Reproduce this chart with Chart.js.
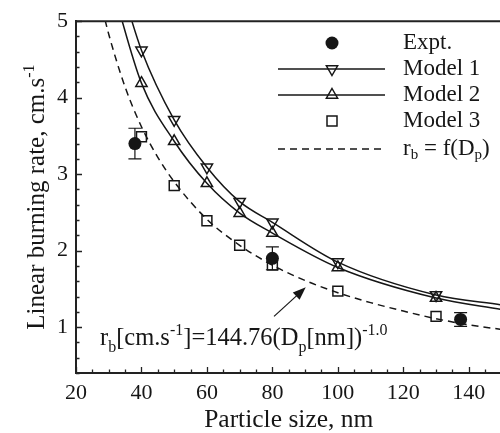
<!DOCTYPE html>
<html>
<head>
<meta charset="utf-8">
<script src="https://cdn.jsdelivr.net/npm/chart.js@4.4.0/dist/chart.umd.min.js"></script>
<style>
  html, body { margin: 0; padding: 0; overflow: hidden; background: #fff; }
  canvas { display: block; }
</style>
</head>
<body>
<canvas id="grafico" width="510" height="433"></canvas>
<script>
// Tamaños de partícula (nm) donde se evalúan los modelos
const tamanos = [40, 50, 60, 70, 80, 100, 130];
const modelo1 = [4.62, 3.71, 3.09, 2.64, 2.37, 1.85, 1.42];
const modelo2 = [4.19, 3.43, 2.88, 2.49, 2.23, 1.78, 1.38];
const modelo3 = [3.49, 2.85, 2.39, 2.07, 1.81, 1.47, 1.14];

// Curvas continuas de los modelos 1 y 2
const curva1X = [35, 40, 50, 60, 70, 80, 100, 130, 150];
const curva1Y = [5.29, 4.62, 3.71, 3.09, 2.64, 2.37, 1.85, 1.42, 1.29];
const curva2X = [32, 40, 50, 60, 70, 80, 100, 130, 150];
const curva2Y = [5.31, 4.19, 3.43, 2.88, 2.49, 2.23, 1.78, 1.38, 1.23];

// Ajuste rb = 144.76 / Dp
const ajusteX = [28, 30, 35, 40, 45, 50, 60, 70, 80, 90, 100, 110, 120, 130, 140, 150];
const ajusteY = [5.17, 4.83, 4.14, 3.62, 3.22, 2.90, 2.41, 2.07, 1.81, 1.61, 1.45, 1.32, 1.21, 1.11, 1.03, 0.97];

// Datos experimentales con su barra de error
const exptX = [38, 80, 137.5];
const exptY = [3.4, 1.9, 1.1];
const exptErr = [0.2, 0.15, 0.09];

// Etiquetas de los ejes
const etiquetasX = [20, 40, 60, 80, 100, 120, 140];
const etiquetasY = [1, 2, 3, 4, 5];

const NEGRO = '#161616';
const FUENTE = '"Liberation Serif", "Times New Roman", serif';

const puntos = (xs, ys) => xs.map((x, i) => ({ x, y: ys[i] }));

// Texto con subíndices y superíndices: [texto, 'n' | 'sub' | 'sup']
function textoCompuesto(ctx, partes, x, y, tam, medir) {
  let cx = x;
  partes.forEach(([txt, modo]) => {
    const t = modo === 'n' ? tam : Math.round(tam * 0.64);
    ctx.font = `${t}px ${FUENTE}`;
    const dy = modo === 'sub' ? tam * 0.28 : modo === 'sup' ? -tam * 0.42 : 0;
    if (!medir) ctx.fillText(txt, cx, y + dy);
    cx += ctx.measureText(txt).width;
  });
  return cx - x;
}

function marcador(ctx, tipo, x, y) {
  ctx.save();
  ctx.strokeStyle = NEGRO;
  ctx.fillStyle = NEGRO;
  ctx.lineWidth = 1.5;
  ctx.beginPath();
  if (tipo === 'circulo') {
    ctx.arc(x, y, 6.5, 0, Math.PI * 2);
    ctx.fill();
  } else if (tipo === 'cuadro') {
    ctx.rect(x - 5, y - 5, 10, 10);
    ctx.stroke();
  } else {
    const r = 6.5, s = tipo === 'abajo' ? -1 : 1;
    ctx.moveTo(x, y - s * r);
    ctx.lineTo(x + r * 0.866, y + s * r / 2);
    ctx.lineTo(x - r * 0.866, y + s * r / 2);
    ctx.closePath();
    ctx.stroke();
  }
  ctx.restore();
}

const marco = {
  id: 'marco',
  beforeDatasetsDraw(chart) {
    const { ctx, scales: { x, y } } = chart;
    // Barras de error
    ctx.save();
    ctx.strokeStyle = NEGRO;
    ctx.lineWidth = 1.2;
    exptX.forEach((v, i) => {
      const px = x.getPixelForValue(v);
      const y1 = y.getPixelForValue(exptY[i] + exptErr[i]);
      const y2 = y.getPixelForValue(exptY[i] - exptErr[i]);
      ctx.beginPath();
      ctx.moveTo(px, y1); ctx.lineTo(px, y2);
      ctx.moveTo(px - 6.5, y1); ctx.lineTo(px + 6.5, y1);
      ctx.moveTo(px - 6.5, y2); ctx.lineTo(px + 6.5, y2);
      ctx.stroke();
    });
    ctx.restore();
  },
  afterDraw(chart) {
    const { ctx, chartArea: a, scales: { x, y } } = chart;
    ctx.save();
    ctx.strokeStyle = '#222';
    ctx.lineWidth = 2;
    ctx.beginPath();
    ctx.moveTo(a.left - 1, a.top); ctx.lineTo(a.right, a.top); ctx.lineTo(a.right, a.bottom);
    ctx.stroke();

    // Marcas hacia dentro: mayores y menores
    ctx.lineWidth = 1.3;
    ctx.beginPath();
    x.ticks.forEach(t => {
      const px = Math.round(x.getPixelForValue(t.value)) + 0.5;
      const largo = etiquetasX.includes(Math.round(t.value)) && Math.abs(t.value % 20) < 1e-6 ? 6 : 3.5;
      ctx.moveTo(px, a.bottom); ctx.lineTo(px, a.bottom - largo);
    });
    y.ticks.forEach(t => {
      const py = Math.round(y.getPixelForValue(t.value)) + 0.5;
      const largo = Math.abs(t.value - Math.round(t.value)) < 1e-6 ? 6 : 3.5;
      ctx.moveTo(a.left, py); ctx.lineTo(a.left + largo, py);
    });
    ctx.stroke();

    // Título del eje Y
    ctx.fillStyle = NEGRO;
    ctx.textBaseline = 'alphabetic';
    ctx.textAlign = 'left';
    const tituloY = [['Linear burning rate, cm.s', 'n'], ['-1', 'sup']];
    const w = textoCompuesto(ctx, tituloY, 0, 0, 25, true);
    ctx.save();
    ctx.translate(44, (a.top + a.bottom) / 2);
    ctx.rotate(-Math.PI / 2);
    textoCompuesto(ctx, tituloY, -w / 2, 0, 25);
    ctx.restore();

    // Leyenda
    const filas = [
      { y: 43, marca: 'circulo', linea: null, texto: [['Expt.', 'n']] },
      { y: 69, marca: 'abajo', linea: [], texto: [['Model 1', 'n']] },
      { y: 95, marca: 'arriba', linea: [], texto: [['Model 2', 'n']] },
      { y: 121, marca: 'cuadro', linea: null, texto: [['Model 3', 'n']] },
      { y: 149, marca: null, linea: [7, 5], texto: [['r', 'n'], ['b', 'sub'], [' = f(D', 'n'], ['p', 'sub'], [')', 'n']] }
    ];
    filas.forEach(f => {
      if (f.linea) {
        ctx.save();
        ctx.strokeStyle = NEGRO;
        ctx.lineWidth = 1.5;
        ctx.setLineDash(f.linea);
        ctx.beginPath();
        ctx.moveTo(278, f.y); ctx.lineTo(385, f.y);
        ctx.stroke();
        ctx.restore();
      }
      if (f.marca) marcador(ctx, f.marca, 332, f.y);
      ctx.textBaseline = 'middle';
      textoCompuesto(ctx, f.texto, 403, f.y, 23);
    });

    // Ecuación del ajuste y flecha
    ctx.textBaseline = 'alphabetic';
    textoCompuesto(ctx, [['r', 'n'], ['b', 'sub'], ['[cm.s', 'n'], ['-1', 'sup'],
      [']=144.76(D', 'n'], ['p', 'sub'], ['[nm])', 'n'], ['-1.0', 'sup']], 100, 345, 24.5);

    const x0 = x.getPixelForValue(80.5), y0 = y.getPixelForValue(1.14);
    const x1 = x.getPixelForValue(90.2), y1 = y.getPixelForValue(1.52);
    const ang = Math.atan2(y1 - y0, x1 - x0);
    ctx.strokeStyle = NEGRO;
    ctx.lineWidth = 1.2;
    ctx.beginPath();
    ctx.moveTo(x0, y0);
    ctx.lineTo(x1 - 10 * Math.cos(ang), y1 - 10 * Math.sin(ang));
    ctx.stroke();
    ctx.beginPath();
    ctx.moveTo(x1, y1);
    ctx.lineTo(x1 - 13 * Math.cos(ang) + 5 * Math.sin(ang), y1 - 13 * Math.sin(ang) - 5 * Math.cos(ang));
    ctx.lineTo(x1 - 13 * Math.cos(ang) - 5 * Math.sin(ang), y1 - 13 * Math.sin(ang) + 5 * Math.cos(ang));
    ctx.closePath();
    ctx.fill();
    ctx.restore();
  }
};

const linea = (xs, ys, dash) => ({
  data: puntos(xs, ys),
  showLine: true,
  borderColor: NEGRO,
  borderWidth: 1.5,
  borderDash: dash,
  pointRadius: 0,
  cubicInterpolationMode: 'monotone'
});

const simbolos = (ys, estilo, extra) => Object.assign({
  data: puntos(tamanos, ys),
  showLine: false,
  pointStyle: estilo,
  pointRadius: 6.5,
  pointBorderWidth: 1.5,
  pointBorderColor: NEGRO,
  pointBackgroundColor: 'rgba(0,0,0,0)'
}, extra);

const ctx = document.getElementById('grafico');
new Chart(ctx, {
  type: 'scatter',
  data: {
    datasets: [
      {
        label: 'Expt.',
        data: puntos(exptX, exptY),
        pointStyle: 'circle',
        pointRadius: 6.5,
        pointBorderWidth: 0,
        pointBackgroundColor: NEGRO
      },
      Object.assign({ label: 'Model 1' }, simbolos(modelo1, 'triangle', { pointRotation: 180 })),
      Object.assign({ label: 'Model 2' }, simbolos(modelo2, 'triangle')),
      Object.assign({ label: 'Model 3' }, simbolos(modelo3, 'rect', { pointRadius: 7 })),
      Object.assign({ label: 'curva 1' }, linea(curva1X, curva1Y, [])),
      Object.assign({ label: 'curva 2' }, linea(curva2X, curva2Y, [])),
      Object.assign({ label: 'rb = f(Dp)' }, linea(ajusteX, ajusteY, [7, 5]))
    ]
  },
  options: {
    responsive: false,
    animation: false,
    events: [],
    layout: { padding: { top: 14, right: 6, left: 0, bottom: 0 } },
    plugins: { legend: { display: false }, tooltip: { enabled: false } },
    scales: {
      x: {
        type: 'linear',
        min: 20,
        max: 150,
        grid: { display: false, drawTicks: false },
        border: { color: '#222', width: 2 },
        ticks: {
          stepSize: 5,
          autoSkip: false,
          maxRotation: 0,
          padding: 7,
          color: NEGRO,
          font: { family: FUENTE, size: 22 },
          callback: v => etiquetasX.includes(v) ? String(v) : ''
        },
        title: {
          display: true,
          text: 'Particle size, nm',
          color: NEGRO,
          font: { family: FUENTE, size: 25.5, lineHeight: 1.0 },
          padding: { top: 0, bottom: 0 }
        },
        afterFit: s => { s.height = 60; }
      },
      y: {
        type: 'linear',
        min: 0.4,
        max: 5,
        grid: { display: false, drawTicks: false },
        border: { color: '#222', width: 2 },
        ticks: {
          stepSize: 0.2,
          autoSkip: false,
          padding: 8,
          color: NEGRO,
          font: { family: FUENTE, size: 22 },
          callback: v => {
            const r = Math.round(v);
            return Math.abs(v - r) < 1e-6 && etiquetasY.includes(r) ? String(r) : '';
          }
        },
        afterFit: s => { s.width = 76; }
      }
    }
  },
  plugins: [marco]
});
</script>
</body>
</html>
